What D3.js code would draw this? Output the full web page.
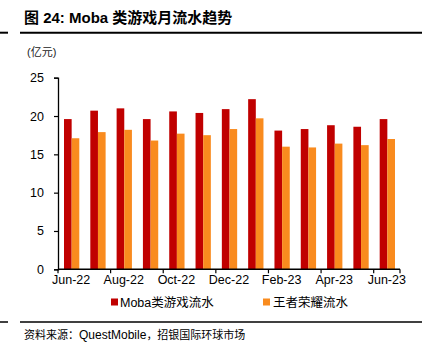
<!DOCTYPE html>
<html><head><meta charset="utf-8">
<script src="https://cdn.jsdelivr.net/npm/d3@7"></script>
<style>body{margin:0;background:#fff}svg{display:block}</style>
</head><body><svg id="c" width="431" height="355"></svg>
<script>
const categories=["Jun-22","Jul-22","Aug-22","Sep-22","Oct-22","Nov-22","Dec-22","Jan-23","Feb-23","Mar-23","Apr-23","May-23","Jun-23"];
const mobaValues=[19.6,20.7,21.0,19.6,20.6,20.4,20.9,22.2,18.1,18.3,18.8,18.6,19.6];
const hokValues=[17.1,17.9,18.2,16.8,17.7,17.5,18.3,19.7,16.0,15.9,16.4,16.2,17.0];
const seriesNames=["Moba类游戏流水","王者荣耀流水"];
const yTicks=[0,5,10,15,20,25];
const colors=["#C00000","#F98B1E"];

const svg=d3.select("#c");
const font="'Liberation Sans',Arial,'Noto Sans CJK SC',sans-serif";
const cjk="'Noto Sans CJK SC',sans-serif";

// title
svg.append("text").attr("x",24).attr("y",23).attr("font-family",font).attr("font-size",15).attr("font-weight","bold").attr("fill","#000")
  .text("图 24: Moba 类游戏月流水趋势");
svg.append("line").attr("x1",20).attr("x2",422).attr("y1",32.7).attr("y2",32.7).attr("stroke","#000").attr("stroke-width",2);
svg.append("line").attr("x1",0).attr("x2",8).attr("y1",32.7).attr("y2",32.7).attr("stroke","#000").attr("stroke-width",2);
svg.append("text").attr("x",27).attr("y",56).attr("font-family",font).attr("font-size",11).attr("fill","#222").text("(亿元)");

const x=d3.scaleBand().domain(categories).range([58,400]).paddingInner(0).paddingOuter(0);
const y=d3.scaleLinear().domain([0,25]).range([269.3,77.7]);
const inner=d3.scaleBand().domain([0,1]).range([6,x.bandwidth()-5]);

const g=svg.append("g");
categories.forEach((c,i)=>{
  [mobaValues[i],hokValues[i]].forEach((v,j)=>{
    g.append("rect").attr("x",x(c)+inner(j)).attr("width",inner.bandwidth()).attr("y",y(v)).attr("height",y(0)-y(v)).attr("fill",colors[j]);
  });
});

// y axis
const ya=svg.append("g").attr("transform","translate(58,0)").call(d3.axisLeft(y).tickValues(yTicks).tickSize(4).tickPadding(10).tickFormat(d3.format("d")));
ya.select(".domain").attr("stroke","#000").attr("stroke-width",1.3);
ya.selectAll(".tick line").attr("stroke","#000").attr("stroke-width",1.2);
ya.selectAll("text").attr("font-family",font).attr("font-size",12.5).attr("fill","#000");

// x axis
const xa=svg.append("g").attr("transform","translate(0,269.3)");
xa.append("line").attr("x1",58).attr("x2",400).attr("stroke","#000").attr("stroke-width",1.5);
categories.forEach((c,i)=>{
  if(i%2===0){
    xa.append("line").attr("x1",x(c)).attr("x2",x(c)).attr("y1",0).attr("y2",4).attr("stroke","#000").attr("stroke-width",1.2);
    xa.append("text").attr("x",x(c)+x.bandwidth()/2).attr("y",15).attr("text-anchor","middle").attr("font-family",font).attr("font-size",12.5).attr("fill","#000").text(c);
  }
});
xa.append("line").attr("x1",400).attr("x2",400).attr("y1",0).attr("y2",4).attr("stroke","#000").attr("stroke-width",1.2);

// legend
const leg=[{x:111,tx:120},{x:263,tx:273}];
seriesNames.forEach((n,j)=>{
  svg.append("rect").attr("x",leg[j].x).attr("y",298.5).attr("width",7).attr("height",7).attr("fill",colors[j]);
  svg.append("text").attr("x",leg[j].tx).attr("y",306.5).attr("font-family",font).attr("font-size",12.5).attr("fill","#000").text(n);
});

// bottom
svg.append("line").attr("x1",20).attr("x2",422).attr("y1",322).attr("y2",322).attr("stroke","#000").attr("stroke-width",1.5);
svg.append("line").attr("x1",0).attr("x2",8).attr("y1",322).attr("y2",322).attr("stroke","#000").attr("stroke-width",1.5);
const src=svg.append("text").attr("x",24).attr("y",339).attr("font-size",11).attr("fill","#000");
src.append("tspan").attr("font-family",cjk).text("资料来源：");
src.append("tspan").attr("font-family",font).attr("font-size",12).text("QuestMobile");
src.append("tspan").attr("font-family",cjk).text("，招银国际环球市场");
</script></body></html>
